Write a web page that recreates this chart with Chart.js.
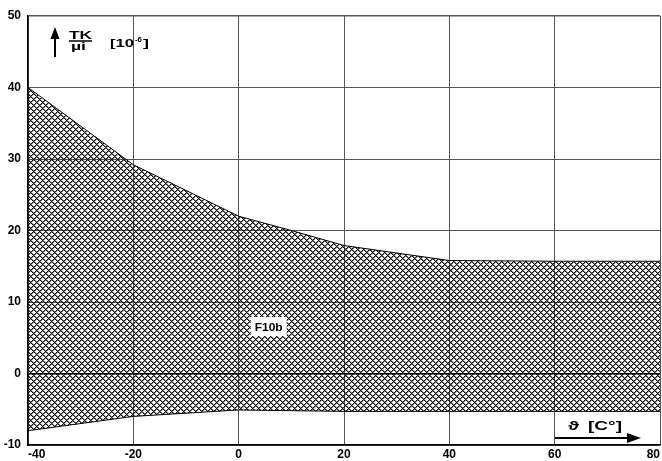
<!DOCTYPE html>
<html>
<head>
<meta charset="utf-8">
<script src="https://cdn.jsdelivr.net/npm/chart.js@4/dist/chart.umd.min.js"></script>
<style>
  html, body { margin: 0; padding: 0; background: #fff; overflow: hidden; }
  #wrap { position: relative; width: 662px; height: 461px; }
</style>
</head>
<body>
<div id="wrap"><canvas id="tkChart"></canvas></div>
<script>
// temperature in °C, TK limits in 10^-6
const tempPoints = [-40, -20, 0, 10, 20, 40, 60, 80];
const upperLimit = [40, 29.2, 22, 20, 17.9, 15.8, 15.7, 15.7];
const lowerLimit = [-8, -6, -5.1, -5.2, -5.3, -5.3, -5.3, -5.3];
const xTicks = [-40, -20, 0, 20, 40, 60, 80];
const yTicks = [-10, 0, 10, 20, 30, 40, 50];

const fontFamily = "'Liberation Sans', Arial, sans-serif";

// crisp 6px cross hatch, transparent so the grid shows through
function crossHatch() {
  const size = 6;
  const c = document.createElement("canvas");
  c.width = size;
  c.height = size;
  const g = c.getContext("2d");
  const img = g.createImageData(size, size);
  for (let y = 0; y < size; y++) {
    for (let x = 0; x < size; x++) {
      const a = (x + y) % size, b = (x - y + size) % size;
      let alpha = 0;
      if (a === 0 || b === 0) alpha = 250;
      else if (a === 1 || b === 1) alpha = 135;
      const k = (y * size + x) * 4;
      img.data[k] = 10; img.data[k + 1] = 10; img.data[k + 2] = 10;
      img.data[k + 3] = alpha;
    }
  }
  g.putImageData(img, 0, 0);
  return g.createPattern(c, "repeat");
}

// the original lettering is a flat, wide bold face
function wideText(ctx, text, x, y, size, width) {
  ctx.font = "bold " + size + "px " + fontFamily;
  const w = ctx.measureText(text).width;
  ctx.save();
  ctx.translate(x, y);
  ctx.scale(width / w, 1);
  ctx.fillText(text, 0, 0);
  ctx.restore();
}

const toXY = (ys) => tempPoints.map((t, i) => ({ x: t, y: ys[i] }));

const annotations = {
  id: "annotations",
  afterDatasetsDraw(chart) {
    const { ctx, scales } = chart;
    const sx = scales.x, sy = scales.y;
    ctx.save();
    ctx.fillStyle = "#000";
    ctx.strokeStyle = "#000";
    ctx.textAlign = "left";
    ctx.textBaseline = "alphabetic";

    // F10b label
    const fx = sx.getPixelForValue(5.7), fy = sy.getPixelForValue(6.5);
    ctx.fillStyle = "#fff";
    ctx.fillRect(fx - 18, fy - 10, 36, 19);
    ctx.fillStyle = "#000";
    wideText(ctx, "F10b", fx - 14, fy + 4, 11, 28);

    // y axis caption: arrow + TK/µi [10^-6]
    const ax = 55;
    ctx.lineWidth = 2;
    ctx.beginPath();
    ctx.moveTo(ax, 57);
    ctx.lineTo(ax, 36);
    ctx.stroke();
    ctx.beginPath();
    ctx.moveTo(ax - 4.5, 39);
    ctx.lineTo(ax, 27);
    ctx.lineTo(ax + 4.5, 39);
    ctx.closePath();
    ctx.fill();

    wideText(ctx, "TK", 69, 39, 10, 23);
    ctx.lineWidth = 1.5;
    ctx.beginPath();
    ctx.moveTo(69, 41);
    ctx.lineTo(92, 41);
    ctx.stroke();
    wideText(ctx, "\u00b5i", 71, 50, 10, 15);

    wideText(ctx, "[10", 110, 47, 11, 24);
    wideText(ctx, "-6", 135, 42, 7, 7);
    wideText(ctx, "]", 143, 47, 11, 6);

    // x axis caption: theta [C°] + arrow
    wideText(ctx, "\u03d1", 568, 430, 13, 11);
    wideText(ctx, "[C\u00b0]", 588, 430, 13, 34);
    ctx.lineWidth = 2;
    ctx.beginPath();
    ctx.moveTo(555, 438);
    ctx.lineTo(630, 438);
    ctx.stroke();
    ctx.beginPath();
    ctx.moveTo(627, 433);
    ctx.lineTo(641, 438);
    ctx.lineTo(627, 443);
    ctx.closePath();
    ctx.fill();
    ctx.restore();
  },
};

new Chart(document.getElementById("tkChart"), {
  type: "line",
  data: {
    datasets: [
      {
        data: toXY(lowerLimit),
        borderColor: "#000",
        borderWidth: 1,
        pointRadius: 0,
        fill: false,
      },
      {
        data: toXY(upperLimit),
        borderColor: "#000",
        borderWidth: 1,
        pointRadius: 0,
        fill: "-1",
        backgroundColor: crossHatch(),
      },
    ],
  },
  options: {
    responsive: true,
    maintainAspectRatio: false,
    animation: false,
    layout: { padding: { top: 16, left: 0, right: 0, bottom: 0 } },
    plugins: { legend: { display: false }, tooltip: { enabled: false } },
    scales: {
      x: {
        type: "linear",
        min: -40,
        max: 80,
        afterBuildTicks: (s) => { s.ticks = xTicks.map((v) => ({ value: v })); },
        afterFit: (s) => { s.height = 16; },
        ticks: { color: "#000", font: { family: fontFamily, size: 12, weight: "bold" }, padding: 2, maxRotation: 0, align: "inner" },
        grid: { color: "#555", lineWidth: 1, drawTicks: false },
        border: { color: "#000", width: 1.5 },
      },
      y: {
        min: -10,
        max: 50,
        afterBuildTicks: (s) => { s.ticks = yTicks.map((v) => ({ value: v })); },
        afterFit: (s) => { s.width = 28; },
        ticks: { color: "#000", font: { family: fontFamily, size: 12, weight: "bold" }, padding: 7 },
        grid: {
          color: (c) => (c.tick && c.tick.value === 0 ? "#000" : "#555"),
          lineWidth: (c) => (c.tick && (c.tick.value === 0 || c.tick.value === 50) ? 1.5 : 1),
          drawTicks: false,
        },
        border: { color: "#000", width: 1.5 },
      },
    },
  },
  plugins: [annotations],
});
</script>
</body>
</html>
